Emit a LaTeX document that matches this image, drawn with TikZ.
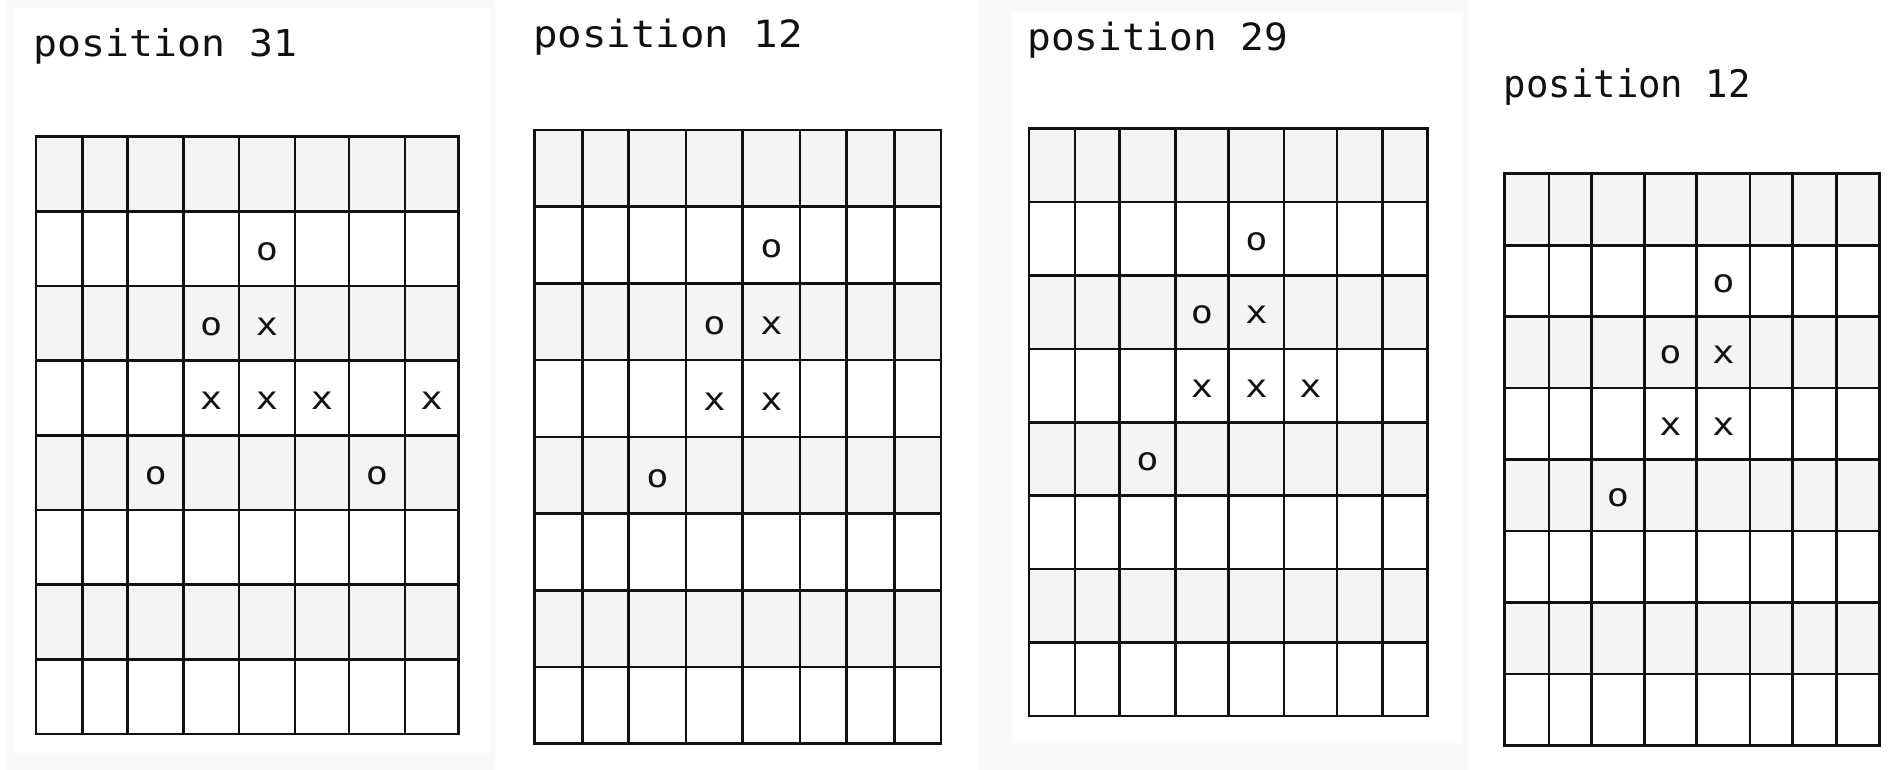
\documentclass[tikz,border=0pt]{standalone}
\usepackage{fontspec}
\newfontfamily\monof{DejaVu Sans Mono}
\definecolor{rowgray}{HTML}{F4F4F4}
\definecolor{gridcol}{HTML}{111111}
\definecolor{panelgray}{HTML}{FAFAFA}
\tikzset{
  gridln/.style={draw=gridcol, line width=1.3pt, line cap=rect},
  cellmark/.style={inner sep=0pt, anchor=base, font=\monof\fontsize{16}{18}\selectfont, text=gridcol},
  titletext/.style={inner sep=0pt, anchor=base west, text=gridcol},
}
\newcommand\board[5]{%
  \def\xs{#2}%
  \pgfmathsetmacro\xl{\xs[0]}%
  \pgfmathsetmacro\xr{\xs[8]}%
  \pgfmathsetmacro\rh{(#4-#3)/8}%
  \foreach \r in {0,2,4,6}{\fill[rowgray] (\xl,{#3+\r*\rh}) rectangle (\xr,{#3+(\r+1)*\rh});}
  \foreach \i in {0,...,8}{\pgfmathsetmacro\xx{\xs[\i]}\draw[gridln] (\xx,#3) -- (\xx,#4);}
  \foreach \i in {0,...,8}{\draw[gridln] (\xl,{#3+\i*\rh}) -- (\xr,{#3+\i*\rh});}
  \foreach \c/\r/\s [count=\k] in {#5}{%
    \pgfmathtruncatemacro\cn{\c+1}%
    \pgfmathsetmacro\xa{\xs[\c]}%
    \pgfmathsetmacro\xb{\xs[\cn]}%
    \pgfmathsetmacro\cx{(\xa+\xb)/2}%
    \pgfmathsetmacro\cy{#3+(\r+0.66)*\rh}%
    \node[cellmark] (#1m\k) at (\cx,\cy) {\scalebox{1.15}[1]{\s}};}
}
\begin{document}
\begin{tikzpicture}[x=0.5pt,y=-0.5pt]
\useasboundingbox (0,0) rectangle (1896,770);
\fill[white] (0,0) rectangle (1896,770);
% faint screenshot panels
\fill[panelgray] (6,0) rectangle (495,770);
\fill[white] (13,8) rectangle (490,753);
\fill[panelgray] (978,0) rectangle (1468,770);
\fill[white] (1012,12) rectangle (1463,743);
% titles
\node[titletext] (t1) at (33.5,57) {\monof\fontsize{18.5}{20}\selectfont\scalebox{1.075}[1]{position 31}};
\node[titletext] (t2) at (533,47.5) {\monof\fontsize{18.75}{20}\selectfont\scalebox{1.085}[1]{position 12}};
\node[titletext] (t3) at (1027,50.5) {\monof\fontsize{18.75}{20}\selectfont\scalebox{1.05}[1]{position 29}};
\node[titletext] (t4) at (1503.5,98) {\monof\fontsize{19}{20}\selectfont\scalebox{0.98}[1]{position 12}};
% boards
\board{a}{{36,82.5,127.7,183.5,239,295,349,405,458.5}}{136.6}{734}%
  {4/1/o,3/2/o,4/2/x,3/3/x,4/3/x,5/3/x,7/3/x,2/4/o,6/4/o}
\board{b}{{534.3,582.3,628.7,686,742.7,800,846.7,894.3,941}}{130}{743.6}%
  {4/1/o,3/2/o,4/2/x,3/3/x,4/3/x,2/4/o}
\board{c}{{1029,1075,1119.7,1175.3,1228.7,1284,1337,1382.7,1427.3}}{128.5}{716}%
  {4/1/o,3/2/o,4/2/x,3/3/x,4/3/x,5/3/x,2/4/o}
\board{d}{{1504.5,1549,1591.7,1644.3,1696.7,1750,1792.7,1836.7,1879.3}}{173.8}{745.3}%
  {4/1/o,3/2/o,4/2/x,3/3/x,4/3/x,2/4/o}
\end{tikzpicture}
\end{document}
